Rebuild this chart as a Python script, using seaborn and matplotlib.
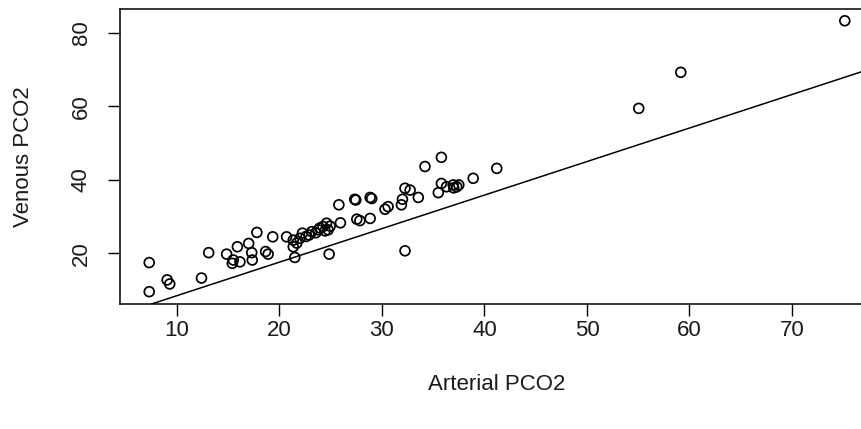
import numpy as np
import matplotlib
matplotlib.use("Agg")
import matplotlib.pyplot as plt
import seaborn as sns

# values (arterial vs venous PCO2)
arterial_pco2 = [7.3, 7.3, 9.05, 9.3, 12.4, 13.1, 14.85, 15.5, 15.4, 15.9,
                 16.15, 17.0, 17.3, 17.35, 17.8, 18.65, 18.9, 19.35, 20.7, 21.35,
                 21.35, 21.5, 22.0, 22.25, 22.9, 23.15, 23.8, 24.25, 24.6, 24.75,
                 24.85, 25.8, 25.95, 27.35, 27.55, 27.85, 28.85, 28.85, 30.3, 30.6,
                 31.9, 32.0, 32.25, 32.75, 33.55, 32.25, 34.2, 35.8, 35.5, 35.8,
                 36.3, 36.95, 37.3, 38.9, 41.2, 55.05, 59.15, 75.15, 23.55, 23.95,
                 24.45, 24.95, 21.7, 27.45, 37.0, 37.5, 22.6, 29.0]
venous_pco2 = [17.5, 9.6, 12.8, 11.7, 13.3, 20.2, 19.8, 18.2, 17.3, 21.8,
               17.7, 22.7, 20.2, 18.2, 25.7, 20.5, 19.8, 24.5, 24.5, 23.6,
               21.8, 18.9, 24.1, 25.5, 25.0, 25.9, 26.4, 27.3, 28.2, 26.4,
               19.8, 33.2, 28.3, 34.7, 29.3, 28.9, 35.2, 29.5, 32.0, 32.7,
               33.2, 34.7, 37.7, 37.2, 35.2, 20.7, 43.6, 46.1, 36.5, 39.0,
               38.1, 38.6, 38.1, 40.4, 43.1, 59.4, 69.2, 83.2, 25.6, 26.9,
               26.1, 27.4, 22.8, 34.5, 37.8, 38.6, 24.6, 34.9]

# reference line drawn over the points
line_intercept = -0.6
line_slope = 0.911

x_ticks = [10, 20, 30, 40, 50, 60, 70]
y_ticks = [20, 40, 60, 80]

sns.set_theme(style="ticks")
plt.rcParams['font.family'] = ['Liberation Sans', 'DejaVu Sans']

W, H = 862, 429
fig = plt.figure(figsize=(W / 100, H / 100), dpi=100)
ax = fig.add_axes([120 / W, (H - 304) / H, (873 - 120) / W, (304 - 9) / H])

sns.scatterplot(x=arterial_pco2, y=venous_pco2, ax=ax, marker='o', s=50,
                facecolors='none', edgecolor='black', linewidth=1.25)
ax.axline((0, line_intercept), slope=line_slope, color='black', linewidth=1.1)

ax.set_xlim(4.45, 77.9)
ax.set_ylim(6.25, 86.4)
ax.set_xticks(x_ticks)
ax.set_yticks(y_ticks)

for side in ['left', 'right', 'top', 'bottom']:
    ax.spines[side].set_visible(True)
    ax.spines[side].set_color('black')
    ax.spines[side].set_linewidth(1.1)

txt = '#1a1a1a'
ax.tick_params(axis='both', direction='out', length=8.5, width=1.0,
               color='black', labelsize=16, labelcolor=txt)
ax.tick_params(axis='x', pad=3)
ax.tick_params(axis='y', pad=12, labelrotation=90)
for lab in ax.get_yticklabels():
    lab.set_va('center')

ax.set_xlabel('Arterial PCO2', fontsize=16, color=txt, labelpad=24)
ax.set_ylabel('Venous PCO2', fontsize=16, color=txt, labelpad=26)

fig.savefig('out.png', dpi=100)
